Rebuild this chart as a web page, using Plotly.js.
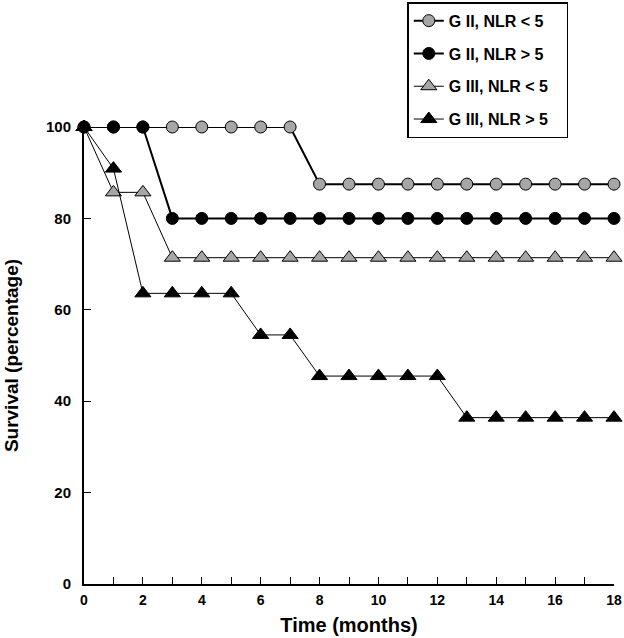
<!DOCTYPE html>
<html>
<head>
<meta charset="utf-8">
<script src="https://cdn.plot.ly/plotly-3.0.1.min.js"></script>
<style>
  html, body { margin: 0; padding: 0; background: #fff; }
  #chart { width: 624px; height: 638px; }
</style>
</head>
<body>
<div id="chart"></div>
<script>
// months of follow-up
const months = [0, 1, 2, 3, 4, 5, 6, 7, 8, 9, 10, 11, 12, 13, 14, 15, 16, 17, 18];

// survival (%)
const g2Low  = [100, 100, 100, 100, 100, 100, 100, 100, 87.5, 87.5, 87.5, 87.5, 87.5, 87.5, 87.5, 87.5, 87.5, 87.5, 87.5];
const g2High = [100, 100, 100, 80, 80, 80, 80, 80, 80, 80, 80, 80, 80, 80, 80, 80, 80, 80, 80];
const g3Low  = [100, 85.7, 85.7, 71.4, 71.4, 71.4, 71.4, 71.4, 71.4, 71.4, 71.4, 71.4, 71.4, 71.4, 71.4, 71.4, 71.4, 71.4, 71.4];
const g3High = [100, 90.9, 63.6, 63.6, 63.6, 63.6, 54.5, 54.5, 45.5, 45.5, 45.5, 45.5, 45.5, 36.4, 36.4, 36.4, 36.4, 36.4, 36.4];

const names = ['G II, NLR < 5', 'G II, NLR > 5', 'G III, NLR < 5', 'G III, NLR > 5'];
const yTicks = [0, 20, 40, 60, 80, 100];
const xTicks = [0, 2, 4, 6, 8, 10, 12, 14, 16, 18];

function series(y, name, symbol, fill, lineWidth, size) {
    return {
        x: months,
        y: y,
        name: name + '\u00a0\u00a0\u00a0',
        legendgroup: name,
        mode: 'lines+markers',
        type: 'scatter',
        cliponaxis: false,
        line: { color: 'black', width: lineWidth },
        marker: { symbol: symbol, size: size, color: fill, line: { color: 'black', width: 1 } }
    };
}

const data = [
    series(g2Low,  names[0], 'circle', '#a6a6a6', 2, 12),
    series(g2High, names[1], 'circle', 'black', 2, 12),
    series(g3Low,  names[2], 'triangle-up', '#a6a6a6', 1, 14),
    series(g3High, names[3], 'triangle-up', 'black', 1, 14)
];

const font = 'Liberation Sans, Arial, sans-serif';

const layout = {
    width: 624,
    height: 638,
    margin: { l: 84, r: 10, t: 127, b: 54, autoexpand: false },
    paper_bgcolor: 'white',
    plot_bgcolor: 'white',
    showlegend: true,
    legend: {
        x: 0.61, y: 1.273, xanchor: 'left', yanchor: 'top',
        bordercolor: 'black', borderwidth: 1.5,
        font: { family: font, size: 16, color: 'black', weight: 'bold' },
        tracegroupgap: 9
    },
    xaxis: {
        range: [0, 18],
        tickvals: xTicks,
        ticks: 'inside', ticklen: 7, tickcolor: 'black',
        minor: { dtick: 1, ticks: 'inside', ticklen: 7, tickcolor: 'black' },
        showline: true, linecolor: 'black', linewidth: 2,
        showgrid: false, zeroline: false,
        ticklabelstandoff: 2,
        tickfont: { family: font, size: 14, color: 'black', weight: 'bold' },
        title: { text: 'Time (months)', font: { family: font, size: 20, color: 'black', weight: 'bold' }, standoff: 11 }
    },
    yaxis: {
        range: [0, 100],
        tickvals: yTicks,
        ticks: 'inside', ticklen: 7, tickcolor: 'black',
        showline: true, linecolor: 'black', linewidth: 2,
        showgrid: false, zeroline: false,
        ticklabelstandoff: 8,
        tickfont: { family: font, size: 15, color: 'black', weight: 'bold' },
        title: { text: 'Survival (percentage)', font: { family: font, size: 19, color: 'black', weight: 'bold' }, standoff: 22 }
    }
};

Plotly.newPlot('chart', data, layout, { displayModeBar: false });
</script>
</body>
</html>
